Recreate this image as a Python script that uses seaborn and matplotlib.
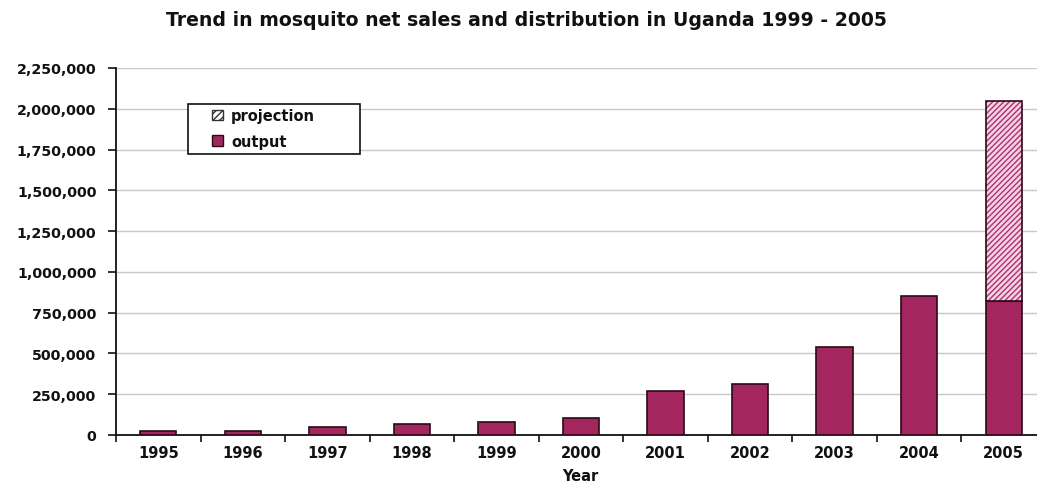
import numpy as np
import pandas as pd
import matplotlib
matplotlib.use("Agg")
import matplotlib.pyplot as plt
import seaborn as sns
from matplotlib.patches import Patch, Rectangle
from matplotlib.ticker import FuncFormatter, FixedLocator

years = ["1995", "1996", "1997", "1998", "1999", "2000", "2001", "2002", "2003", "2004", "2005"]
output = [26000, 26000, 51000, 67000, 82000, 102000, 268000, 315000, 538000, 852000, 823000]
projection_year = "2005"
projection_total = 2050000

sns.set_theme(style="white")
plt.rcParams["font.family"] = ["DejaVu Sans"]
plt.rcParams["font.weight"] = "bold"

bar_color = "#A3265F"
edge_color = "#2A0A18"
text_color = "#111111"

df = pd.DataFrame({"Year": years, "output": output})

W, H = 1037, 485
fig = plt.figure(figsize=(W / 100, H / 100), dpi=100)
ax_left, ax_right, ax_top, ax_bottom = 116, 1046, 69, 436
ax = fig.add_axes([ax_left / W, (H - ax_bottom) / H,
                   (ax_right - ax_left) / W, (ax_bottom - ax_top) / H])

def axfrac(px, py):
    return ((px - ax_left) / (ax_right - ax_left), (ax_bottom - py) / (ax_bottom - ax_top))

sns.barplot(data=df, x="Year", y="output", color=bar_color, width=0.43,
            edgecolor=edge_color, linewidth=1.2, saturation=1, ax=ax, zorder=3)

# projected remainder stacked on top of the 2005 output
idx = years.index(projection_year)
base = output[idx]
ax.bar(idx, projection_total - base, bottom=base, width=0.43, color="#F2D3E6",
       hatch="//////", edgecolor="#B0306F", linewidth=0, zorder=3)
ax.bar(idx, projection_total - base, bottom=base, width=0.43, fill=False,
       edgecolor=edge_color, linewidth=1.2, zorder=4)

ax.set_xlim(-0.5, len(years) - 0.5)
ax.set_ylim(0, 2250000)
ax.yaxis.set_major_locator(FixedLocator(np.arange(0, 2250001, 250000)))
ax.yaxis.set_major_formatter(FuncFormatter(lambda v, p: f"{int(v):,}"))
ax.grid(axis="y", color="#C8C8C8", linewidth=1.0, zorder=0)
ax.set_axisbelow(True)

for s in ["top", "right"]:
    ax.spines[s].set_visible(False)
for s in ["left", "bottom"]:
    ax.spines[s].set_color(text_color)
    ax.spines[s].set_linewidth(1.3)

ax.tick_params(axis="y", which="major", left=True, length=6, width=1.2, color=text_color,
               labelsize=10.3, pad=8)
ax.tick_params(axis="x", which="major", bottom=False, labelsize=10.5, pad=1)
ax.xaxis.set_minor_locator(FixedLocator(np.arange(-0.5, len(years), 1.0)))
ax.tick_params(axis="x", which="minor", bottom=True, length=5, width=1.2, color=text_color)
for lbl in ax.get_xticklabels() + ax.get_yticklabels():
    lbl.set_fontweight("bold")
    lbl.set_color(text_color)

ax.set_ylabel("")
ax.set_xlabel("Year", fontsize=10.5, fontweight="bold", color=text_color)
ax.xaxis.set_label_coords(*axfrac(580, 477))
ax.xaxis.label.set_va("center")

fig.text(527 / W, 1 - 21 / H, "Trend in mosquito net sales and distribution in Uganda 1999 - 2005",
         ha="center", va="center", fontsize=13.6, fontweight="bold", color=text_color)

# legend entries without their own frame; the box is drawn separately
handles = [Patch(facecolor="white", edgecolor="#333333", hatch="/////", label="projection"),
           Patch(facecolor=bar_color, edgecolor=edge_color, label="output")]
leg = ax.legend(handles=handles, loc="upper left", bbox_to_anchor=axfrac(212, 109),
                frameon=False, fontsize=10.5, handlelength=0.75, handleheight=0.75,
                handletextpad=0.55, borderpad=0, labelspacing=0.72, borderaxespad=0)
for t in leg.get_texts():
    t.set_fontweight("bold")
    t.set_color(text_color)

x0, y0 = axfrac(188, 155)
x1, y1 = axfrac(360, 105)
ax.add_patch(Rectangle((x0, y0), x1 - x0, y1 - y0, transform=ax.transAxes,
                       facecolor="white", edgecolor=text_color, linewidth=1.2, zorder=5))
leg.set_zorder(6)

fig.savefig("out.png", dpi=100)
